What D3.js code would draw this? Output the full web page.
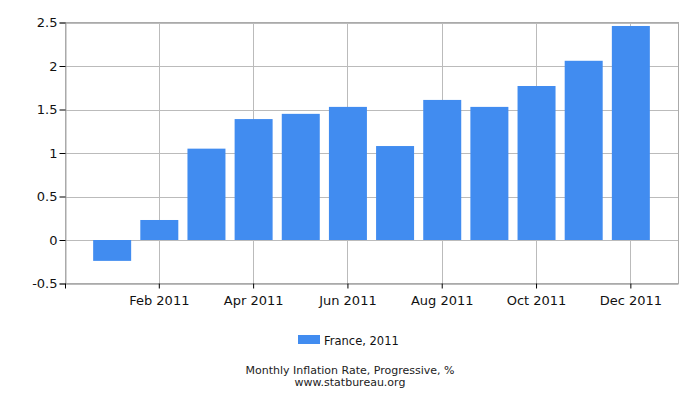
<!DOCTYPE html>
<html><head><meta charset="utf-8">
<script src="https://cdn.jsdelivr.net/npm/d3@7"></script>
<style>body{margin:0;background:#fff;font-family:"DejaVu Sans",sans-serif;}</style>
</head><body><svg id="c" width="700" height="400"></svg>
<script>
const months = ["Jan 2011","Feb 2011","Mar 2011","Apr 2011","May 2011","Jun 2011","Jul 2011","Aug 2011","Sep 2011","Oct 2011","Nov 2011","Dec 2011"];
const values = [-0.24, 0.23, 1.05, 1.39, 1.45, 1.53, 1.08, 1.61, 1.53, 1.77, 2.06, 2.46];
const yTicks = [-0.5, 0, 0.5, 1, 1.5, 2, 2.5];
const xTickLabels = ["Feb 2011","Apr 2011","Jun 2011","Aug 2011","Oct 2011","Dec 2011"];
const seriesName = "France, 2011";
const title = "Monthly Inflation Rate, Progressive, %";
const source = "www.statbureau.org";

const svg = d3.select("#c");
const L = 65.5, R = 678.5, T = 22.5, B = 283.5;
const x = d3.scaleLinear().domain([0, 13]).range([L, R]);
const y = d3.scaleLinear().domain([-0.5, 2.5]).range([B, T]);
const color = "#418cf0";
const font = "DejaVu Sans, sans-serif";

// grid
const g = svg.append("g");
g.selectAll(".hg").data(yTicks).enter().append("line")
  .attr("x1", L).attr("x2", R).attr("y1", d => Math.round(y(d)) + 0.5).attr("y2", d => Math.round(y(d)) + 0.5)
  .attr("stroke", "#bbb").attr("stroke-width", 1);
const xTickIdx = xTickLabels.map(l => months.indexOf(l) + 1);
g.selectAll(".vg").data(xTickIdx).enter().append("line")
  .attr("y1", T).attr("y2", B).attr("x1", d => Math.round(x(d)) - 0.5).attr("x2", d => Math.round(x(d)) - 0.5)
  .attr("stroke", "#bbb").attr("stroke-width", 1);

// bars
const bw = 38;
svg.selectAll(".bar").data(values).enter().append("rect")
  .attr("x", (d, i) => x(i + 1) - bw / 2 - 0.5)
  .attr("width", bw)
  .attr("y", d => y(Math.max(0, d)))
  .attr("height", d => Math.abs(y(d) - y(0)))
  .attr("fill", color);

// frame
svg.append("rect").attr("x", L).attr("y", T).attr("width", R - L).attr("height", B - T)
  .attr("fill", "none").attr("stroke", "#aaa").attr("stroke-width", 1);

// y axis
const yAxis = d3.axisLeft(y).tickValues(yTicks).tickFormat(d => String(d)).tickSize(6).tickPadding(2);
const ya = svg.append("g").attr("transform", `translate(${L},0)`).call(yAxis);
ya.select(".domain").attr("stroke", "#aaa");
ya.selectAll(".tick line").attr("stroke", "#000");
ya.selectAll("text").attr("font-family", font).attr("font-size", 13).attr("fill", "#111");

// x axis
const xAxis = d3.axisBottom(x).tickValues(xTickIdx).tickFormat((d, i) => xTickLabels[i]).tickSize(5).tickPadding(7);
const xa = svg.append("g").attr("transform", `translate(-1,${B})`).call(xAxis);
xa.select(".domain").remove();
xa.selectAll(".tick line").attr("stroke", "#000");
xa.selectAll("text").attr("font-family", font).attr("font-size", 13).attr("fill", "#111");
svg.append("line").attr("x1", L).attr("x2", L).attr("y1", B).attr("y2", B + 5).attr("stroke", "#000");

// legend
svg.append("rect").attr("x", 298).attr("y", 335).attr("width", 22).attr("height", 9).attr("fill", color);
svg.append("text").attr("x", 324).attr("y", 345).text(seriesName)
  .attr("font-family", font).attr("font-size", 11.5).attr("fill", "#111");

// title
svg.append("text").attr("x", 350).attr("y", 374).attr("text-anchor", "middle").text(title)
  .attr("font-family", font).attr("font-size", 11).attr("fill", "#222");
svg.append("text").attr("x", 350).attr("y", 385.5).attr("text-anchor", "middle").text(source)
  .attr("font-family", font).attr("font-size", 11).attr("fill", "#222");
</script></body></html>
